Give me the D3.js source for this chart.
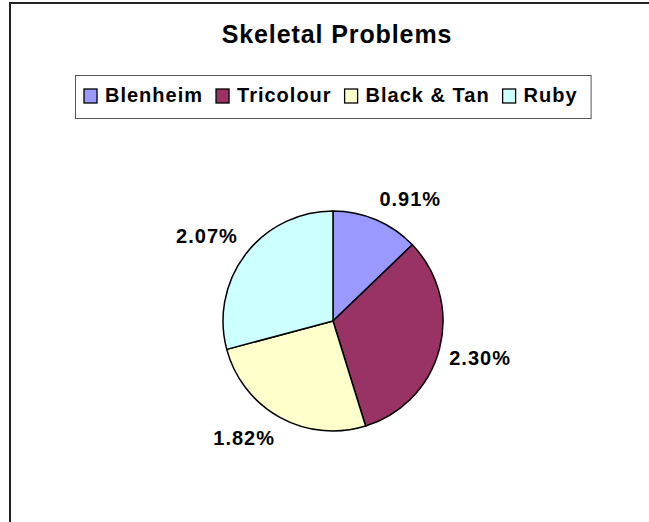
<!DOCTYPE html>
<meta charset="utf-8">
<script src="https://d3js.org/d3.v7.min.js"></script>
<html>
<head>
<style>
  body { margin: 0; background: #fff; }
  text { font-family: "Liberation Sans", Arial, sans-serif; font-weight: bold; fill: #000; }
</style>
</head>
<body>
<div id="chart"></div>
<script>
// chart data
var breeds = ["Blenheim", "Tricolour", "Black & Tan", "Ruby"];
var values = [0.91, 2.30, 1.82, 2.07];   // percent
var colours = ["#9999FF", "#993366", "#FFFFCC", "#CCFFFF"];
var title = "Skeletal Problems";

var width = 649, height = 522;
var cx = 333, cy = 321, radius = 110;

var svg = d3.select("#chart")
  .append("svg")
    .attr("width", width)
    .attr("height", height);

// outer chart frame (right and bottom edges fall outside the picture)
svg.append("rect")
    .attr("x", 10)
    .attr("y", 3)
    .attr("width", width + 20)
    .attr("height", height + 20)
    .attr("fill", "#fff")
    .attr("stroke", "#222")
    .attr("stroke-width", 2);

// title
svg.append("text")
    .attr("x", 337)
    .attr("y", 43)
    .attr("text-anchor", "middle")
    .style("font-size", "25px")
    .style("letter-spacing", "0.9px")
    .text(title);

// legend
var legend = svg.append("g");
var legendBox = legend.append("rect")
    .attr("fill", "#fff")
    .attr("stroke", "#555")
    .attr("stroke-width", 1);

var items = legend.selectAll("g.item")
  .data(breeds)
  .enter().append("g")
    .attr("class", "item");

items.append("rect")
    .attr("width", 13)
    .attr("height", 14)
    .attr("fill", function(d, i) { return colours[i]; })
    .attr("stroke", "#000")
    .attr("stroke-width", 1.3);

items.append("text")
    .attr("x", 21)
    .attr("y", 13)
    .style("font-size", "20px")
    .style("letter-spacing", "1px")
    .text(function(d) { return d; });

// lay legend items out in a row using the measured text widths
var lx = 0;
items.each(function() {
  var g = d3.select(this);
  g.attr("transform", "translate(" + lx + ",0)");
  var w = g.select("text").node().getComputedTextLength();
  lx += 21 + w + 13;
});
var contentW = lx - 13;
var boxW = contentW + 22, boxH = 43;
var boxX = Math.round(cx - boxW / 2), boxY = 75;
legendBox
    .attr("x", boxX + 0.5)
    .attr("y", boxY + 0.5)
    .attr("width", boxW)
    .attr("height", boxH);
items.each(function(d, i) {
  var g = d3.select(this);
  var t = g.attr("transform").match(/translate\(([-\d.]+)/)[1];
  g.attr("transform", "translate(" + (boxX + 9 + (+t)) + "," + (boxY + 14) + ")");
});

// pie
var pie = d3.pie().sort(null).value(function(d) { return d; });
var arcs = pie(values);
var arc = d3.arc().innerRadius(0).outerRadius(radius);

var pieG = svg.append("g")
    .attr("transform", "translate(" + cx + "," + cy + ")");

pieG.selectAll("path")
  .data(arcs)
  .enter().append("path")
    .attr("d", arc)
    .attr("fill", function(d, i) { return colours[i]; })
    .attr("stroke", "#000")
    .attr("stroke-width", 1.5)
    .attr("stroke-linejoin", "round");

// data labels, placed just outside the slice, pushed away from the pie
var labelR = radius + 10;
var clamp = function(v) { return Math.max(-1, Math.min(1, v)); };
pieG.selectAll("text.lbl")
  .data(arcs)
  .enter().append("text")
    .attr("class", "lbl")
    .attr("text-anchor", "middle")
    .attr("dominant-baseline", "central")
    .style("font-size", "20px")
    .style("letter-spacing", "1px")
    .text(function(d) { return d.value.toFixed(2) + "%"; })
    .each(function(d) {
      var a = (d.startAngle + d.endAngle) / 2;
      var s = Math.sin(a), c = Math.cos(a);
      var w = this.getComputedTextLength(), h = 24;
      var x = labelR * s + (w / 2) * clamp(s * 2.5);
      var y = -labelR * c - (h / 2) * clamp(c * 2.5);
      d3.select(this).attr("x", x).attr("y", y);
    });
</script>
</body>
</html>
